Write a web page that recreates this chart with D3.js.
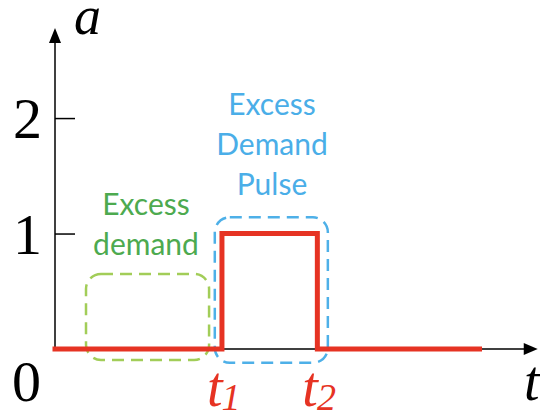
<!DOCTYPE html>
<html>
<head>
<meta charset="utf-8">
<script src="https://cdn.jsdelivr.net/npm/d3@7"></script>
<style>
  body { margin: 0; background: #fff; }
</style>
</head>
<body>
<svg id="graph" width="540" height="418"></svg>
<script>
// pulse signal a(t)
let pulseT = [0, 3.5, 3.5, 5.5, 5.5, 8.9];
let pulseA = [0, 0, 1, 1, 0, 0];
let yTicks = [1, 2];
let tMarks = [{t: 3.5, sub: "1"}, {t: 5.5, sub: "2"}];
let greenLines = ["Excess", "demand"];
let blueLines = ["Excess", "Demand", "Pulse"];

let w = 540;
let h = 418;

let xscale = d3.scaleLinear().domain([0, 10]).range([55, 532]);
let yscale = d3.scaleLinear().domain([0, 2.78]).range([349, 28]);

let red = "#e63323";
let serif = "'Liberation Serif', 'Times New Roman', serif";
let sans = "Lato, 'Open Sans', sans-serif";

let graph = d3.select("#graph");

// dashed boxes
let boxes = [
    {x0: 0.65, x1: 3.23, y0: -0.095, y1: 0.65, color: "#a2cd58"},
    {x0: 3.35, x1: 5.72, y0: -0.12, y1: 1.14, color: "#4eb0e8"}
];
graph.selectAll(".box").data(boxes).enter().append("rect")
    .attr("class", "box")
    .attr("x", d => xscale(d.x0))
    .attr("y", d => yscale(d.y1))
    .attr("width", d => xscale(d.x1) - xscale(d.x0))
    .attr("height", d => yscale(d.y0) - yscale(d.y1))
    .attr("rx", 15)
    .attr("fill", "none")
    .attr("stroke", d => d.color)
    .attr("stroke-width", 2.5)
    .attr("stroke-dasharray", "12,7");

// axes
graph.append("line")
    .attr("x1", xscale(0)).attr("y1", yscale(0))
    .attr("x2", xscale(0)).attr("y2", yscale(2.68))
    .attr("stroke", "black").attr("stroke-width", 1.5);
graph.append("line")
    .attr("x1", xscale(0)).attr("y1", yscale(0))
    .attr("x2", xscale(9.9)).attr("y2", yscale(0))
    .attr("stroke", "black").attr("stroke-width", 1.5);

let ax = xscale(0), ay = yscale(2.78);
graph.append("path")
    .attr("d", `M${ax},${ay} L${ax - 6},${ay + 15} L${ax + 6},${ay + 15} Z`)
    .attr("fill", "black");
let bx = xscale(10.12), by = yscale(0);
graph.append("path")
    .attr("d", `M${bx},${by} L${bx - 14},${by - 6} L${bx - 14},${by + 6} Z`)
    .attr("fill", "black");

let yaxis = d3.axisLeft(yscale).tickValues(yTicks).tickFormat(d3.format("d"))
    .tickSize(-20).tickPadding(13);
let yaxisg = graph.append("g")
    .attr("transform", `translate(${xscale(0)},0)`)
    .call(yaxis);
yaxisg.select(".domain").remove();
yaxisg.selectAll(".tick line").attr("stroke", "black").attr("stroke-width", 1.5);
yaxisg.selectAll(".tick text")
    .style("font-family", serif)
    .style("font-size", "58px")
    .attr("dy", "0.34em")
    .attr("fill", "black");

graph.append("text")
    .text("0")
    .attr("x", xscale(0) - 14)
    .attr("y", yscale(0) + 52)
    .attr("text-anchor", "end")
    .style("font-family", serif)
    .style("font-size", "58px");

graph.append("text")
    .text("a")
    .attr("x", 74)
    .attr("y", 34)
    .style("font-family", serif)
    .style("font-style", "italic")
    .style("font-size", "54px");

graph.append("text")
    .text("t")
    .attr("x", 524)
    .attr("y", 400)
    .style("font-family", serif)
    .style("font-style", "italic")
    .style("font-size", "56px");

// red pulse
let line = d3.line()
    .x(d => xscale(d.t))
    .y(d => yscale(d.a));
graph.append("path")
    .datum(pulseT.map((t, i) => ({t: t, a: pulseA[i]})))
    .attr("d", line)
    .attr("fill", "none")
    .attr("stroke", red)
    .attr("stroke-width", 5)
    .attr("stroke-linejoin", "miter")
    .attr("stroke-linecap", "square");

// t1, t2 labels
let tl = graph.selectAll(".tlab").data(tMarks).enter().append("text")
    .attr("class", "tlab")
    .attr("x", d => xscale(d.t) - 15)
    .attr("y", 406)
    .attr("fill", red)
    .style("font-family", serif)
    .style("font-style", "italic");
tl.append("tspan").text("t").style("font-size", "56px");
tl.append("tspan").text(d => d.sub).attr("dy", 4).attr("dx", -1).style("font-size", "38px");

// annotation text
graph.selectAll(".gtxt").data(greenLines).enter().append("text")
    .attr("class", "gtxt")
    .text(d => d)
    .attr("x", 146)
    .attr("y", (d, i) => 215 + i * 40)
    .attr("text-anchor", "middle")
    .attr("fill", "#4daa4f")
    .style("font-family", sans)
    .style("font-size", "30px");

graph.selectAll(".btxt").data(blueLines).enter().append("text")
    .attr("class", "btxt")
    .text(d => d)
    .attr("x", 272)
    .attr("y", (d, i) => 115 + i * 40)
    .attr("text-anchor", "middle")
    .attr("fill", "#4aaee8")
    .style("font-family", sans)
    .style("font-size", "30px");
</script>
</body>
</html>
